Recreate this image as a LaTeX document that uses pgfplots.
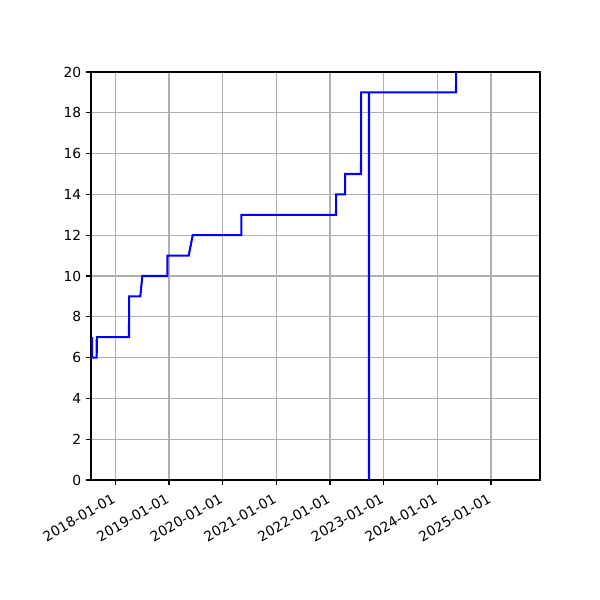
\documentclass[border=0pt]{standalone}
\usepackage{fontspec}
\setmainfont{DejaVu Sans}
\usepackage{pgfplots}
\pgfplotsset{compat=1.18}
\definecolor{gridgray}{HTML}{B0B0B0}
\begin{document}
\fontsize{10}{12}\selectfont
\begin{tikzpicture}
\path (-0.91in,-1.2in) rectangle (5.09in,4.8in);
\begin{axis}[
  at={(0,0)}, anchor=south west,
  scale only axis,
  width=4.49in, height=4.08in,
  xmin=2017.547, xmax=2025.913,
  ymin=0, ymax=20,
  xtick={2018,...,2025},
  xticklabels={2018-01-01,2019-01-01,2020-01-01,2021-01-01,2022-01-01,2023-01-01,2024-01-01,2025-01-01},
  ytick={0,2,...,20},
  tick align=outside,
  tick pos=left,
  major tick length=3.5pt,
  every tick/.style={black, line width=0.8pt},
  axis line style={line width=0.8pt},
  grid=major,
  major grid style={gridgray, line width=0.8pt},
  xticklabel style={rotate=30, anchor=north east, xshift=-2pt, font=\fontsize{10}{12}\selectfont},
  yticklabel style={font=\fontsize{10}{12}\selectfont},
  /pgf/number format/assume math mode=true,
  clip=true,
]
\addplot[blue, line width=1.5pt, line join=miter] coordinates {
  (2017.566,7)
  (2017.568,6)
  (2017.653,6)
  (2017.655,7)
  (2018.255,7)
  (2018.257,9)
  (2018.466,9)
  (2018.503,10)
  (2018.969,10)
  (2018.971,11)
  (2019.368,11)
  (2019.442,12)
  (2020.348,12)
  (2020.350,13)
  (2022.112,13)
  (2022.114,14)
  (2022.280,14)
  (2022.282,15)
  (2022.578,15)
  (2022.580,19)
  (2022.727,19)
  (2022.727,0)
  (2022.728,19)
  (2024.348,19)
  (2024.350,21)
};
\end{axis}
\end{tikzpicture}
\end{document}
